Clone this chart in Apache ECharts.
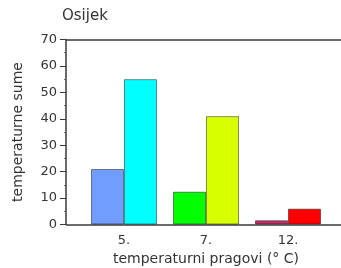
<!DOCTYPE html>
<html>
<head>
<meta charset="utf-8">
<script src="https://cdn.jsdelivr.net/npm/echarts@6/dist/echarts.min.js"></script>
<style>
  html, body { margin: 0; padding: 0; background: #fff; }
  #ech { width: 341px; height: 268px; }
</style>
</head>
<body>
<div id="ech"></div>
<script>
// pragovi (threshold categories)
var categories = ["5.", "7.", "12."];
// first and second bar in each group
var firstValues = [21, 12.4, 1.6];
var secondValues = [55, 41, 6];
var firstColors = ["#709dff", "#00ff00", "#c0306a"];
var secondColors = ["#00ffff", "#d8ff00", "#ff0000"];
var yTicks = [0, 10, 20, 30, 40, 50, 60, 70];

var myChart = echarts.init(document.getElementById("ech"));
var font = "DejaVu Sans";
var frameColor = "#3a3a3a";

function toData(vals, colors) {
  return vals.map(function(v, i) {
    return { value: v, itemStyle: { color: colors[i] } };
  });
}

var option = {
  animation: false,
  title: {
    text: "Osijek",
    left: 62,
    top: 9,
    padding: 0,
    textStyle: { fontFamily: font, fontSize: 15, fontWeight: "normal", color: "#333" }
  },
  grid: [
    // frame + y axis
    { left: 66, top: 39.5, right: 0, height: 185, outerBoundsMode: "none", containLabel: false },
    // bars
    { left: 83, top: 39.5, width: 246, height: 185, outerBoundsMode: "none", containLabel: false }
  ],
  xAxis: [
    { gridIndex: 0, type: "value", min: 0, max: 1, show: false },
    {
      gridIndex: 1,
      type: "category",
      data: categories,
      axisLine: { show: false },
      axisTick: { show: false },
      axisLabel: { fontFamily: font, fontSize: 13, color: "#333", margin: 10 },
      name: "temperaturni pragovi (° C)",
      nameLocation: "middle",
      nameGap: 27,
      nameTextStyle: { fontFamily: font, fontSize: 14, color: "#333" }
    }
  ],
  yAxis: [
    {
      gridIndex: 0,
      type: "value",
      min: yTicks[0],
      max: yTicks[yTicks.length - 1],
      interval: 10,
      axisLine: { show: true, onZero: false, lineStyle: { color: frameColor, width: 1.5 } },
      axisTick: { show: true, length: 6, lineStyle: { color: frameColor } },
      minorTick: { show: true, splitNumber: 2, length: 2, lineStyle: { color: "#666" } },
      splitLine: { show: false },
      axisLabel: { fontFamily: font, fontSize: 13, color: "#333", margin: 9 },
      name: "temperaturne sume",
      nameLocation: "middle",
      nameGap: 41,
      nameTextStyle: { fontFamily: font, fontSize: 14, color: "#333" }
    },
    { gridIndex: 1, type: "value", min: 0, max: 70, show: false },
    // top and bottom frame lines drawn as split lines at 0 and 70
    {
      gridIndex: 0,
      type: "value",
      min: 0,
      max: 70,
      interval: 70,
      axisLine: { show: false },
      axisTick: { show: false },
      axisLabel: { show: false },
      splitLine: { show: true, lineStyle: { color: frameColor, width: 1.5 } }
    }
  ],
  series: [
    {
      type: "bar",
      xAxisIndex: 1,
      yAxisIndex: 1,
      barWidth: 33,
      barGap: "0%",
      itemStyle: { borderColor: "rgba(0,0,0,0.45)", borderWidth: 1 },
      data: toData(firstValues, firstColors)
    },
    {
      type: "bar",
      xAxisIndex: 1,
      yAxisIndex: 1,
      barWidth: 33,
      barGap: "0%",
      itemStyle: { borderColor: "rgba(0,0,0,0.45)", borderWidth: 1 },
      data: toData(secondValues, secondColors)
    }
  ]
};

myChart.setOption(option);
</script>
</body>
</html>
